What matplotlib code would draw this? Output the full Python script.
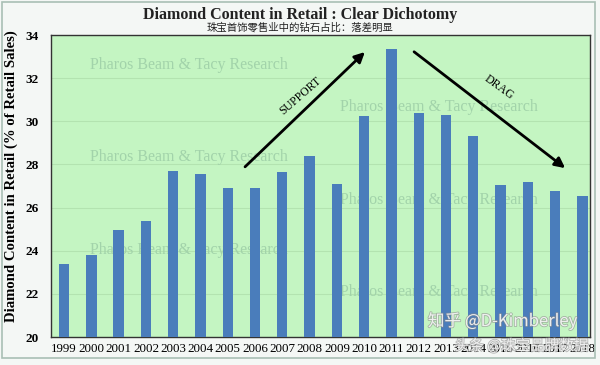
import matplotlib
matplotlib.use("Agg")
import matplotlib.pyplot as plt
from matplotlib.patches import Rectangle
import matplotlib.patheffects as pe

years = [str(y) for y in range(1999, 2019)]
values = [23.4, 23.8, 24.95, 25.4, 27.7, 27.55, 26.9, 26.9, 27.65, 28.4,
          27.1, 30.25, 33.35, 30.4, 30.3, 29.3, 27.05, 27.2, 26.75, 26.55]
yticks = [20, 22, 24, 26, 28, 30, 32, 34]

title = "Diamond Content in Retail : Clear Dichotomy"
subtitle = "珠宝首饰零售业中的钻石占比：落差明显"
ylabel = "Diamond Content in Retail (% of Retail Sales)"
watermark = "Pharos Beam & Tacy Research"

serif = ["Liberation Serif", "DejaVu Serif"]
cjk = ["Noto Sans CJK SC", "DejaVu Sans"]

fig = plt.figure(figsize=(6.0, 3.65), dpi=100)
fig.patch.set_facecolor("#f4f7f5")
fig.patches.append(Rectangle((0.004, 0.02), 0.988, 0.975, transform=fig.transFigure,
                             fill=False, edgecolor="#a9bfb5", linewidth=1.2))

ax = fig.add_axes([51/600, 1-337/365, (590-51)/600, (337-35)/365])
ax.set_facecolor("#c4f5c2")
x = list(range(len(years)))
ax.bar(x, values, width=0.38, color="#4a7dbb", zorder=3)
ax.set_ylim(20, 34)
ax.set_xlim(-0.48, 19.28)
ax.set_yticks(yticks)
ax.set_yticklabels([str(t) for t in yticks], fontfamily=serif, fontweight="bold", fontsize=9.5)
ax.set_xticks(x)
ax.set_xticklabels(years, fontfamily=serif, fontsize=9.4)
ax.tick_params(axis="both", length=0, pad=4)
ax.tick_params(axis="y", pad=9)
ax.grid(axis="y", color="#b3e3b0", linewidth=0.8, zorder=0)
for s in ax.spines.values():
    s.set_color("#333333")
    s.set_linewidth(1.0)

ax.set_ylabel(ylabel, fontfamily=serif, fontweight="bold", fontsize=10.6)
ax.yaxis.set_label_coords((18 - 51) / 539, (337 - 176) / 302)

# watermarks
for xi, yi in [(0.95, 32.6), (0.95, 28.35), (0.95, 24.05), (10.1, 30.67), (10.1, 26.36), (10.1, 22.1)]:
    ax.text(xi, yi, watermark, fontfamily=serif, fontsize=11.5, color="#a2d3aa",
            va="center", ha="left", zorder=2)

# arrows
ax.annotate("", xy=(11.1, 33.3), xytext=(6.56, 27.8),
            arrowprops=dict(arrowstyle="-|>,head_length=0.6,head_width=0.3", color="black", lw=2), zorder=5)
ax.annotate("", xy=(18.45, 27.75), xytext=(12.75, 33.3),
            arrowprops=dict(arrowstyle="-|>,head_length=0.6,head_width=0.3", color="black", lw=2), zorder=5)
ax.text(8.65, 31.15, "SUPPORT", rotation=41, fontfamily=serif, fontsize=8.5,
        ha="center", va="center", zorder=5)
ax.text(15.95, 31.55, "DRAG", rotation=-36, fontfamily=serif, fontsize=8.5,
        ha="center", va="center", zorder=5)

fig.text(0.5, 1-15/365, title, fontfamily=serif, fontweight="bold", fontsize=11.5,
         ha="center", va="center", color="#222222")
fig.text(0.5, 1-27/365, subtitle, fontfamily=cjk, fontsize=7.5,
         ha="center", va="center", color="#222222")

# overlay platform watermarks
shadow = [pe.withStroke(linewidth=1.2, foreground="#8a8a8a", alpha=0.6)]
fig.text(0.713, 1-321/365, "知乎 @D-Kimberley", fontfamily=cjk,
         fontsize=12, color="white", alpha=0.8, ha="left", va="center", zorder=10,
         path_effects=shadow)
fig.text(0.758, 1-346/365, "头条 @珠宝品牌数据", fontfamily=cjk,
         fontsize=10.5, color="white", alpha=0.8, ha="left", va="center", zorder=10,
         path_effects=shadow)

fig.savefig("out.png", dpi=100, facecolor=fig.get_facecolor())
